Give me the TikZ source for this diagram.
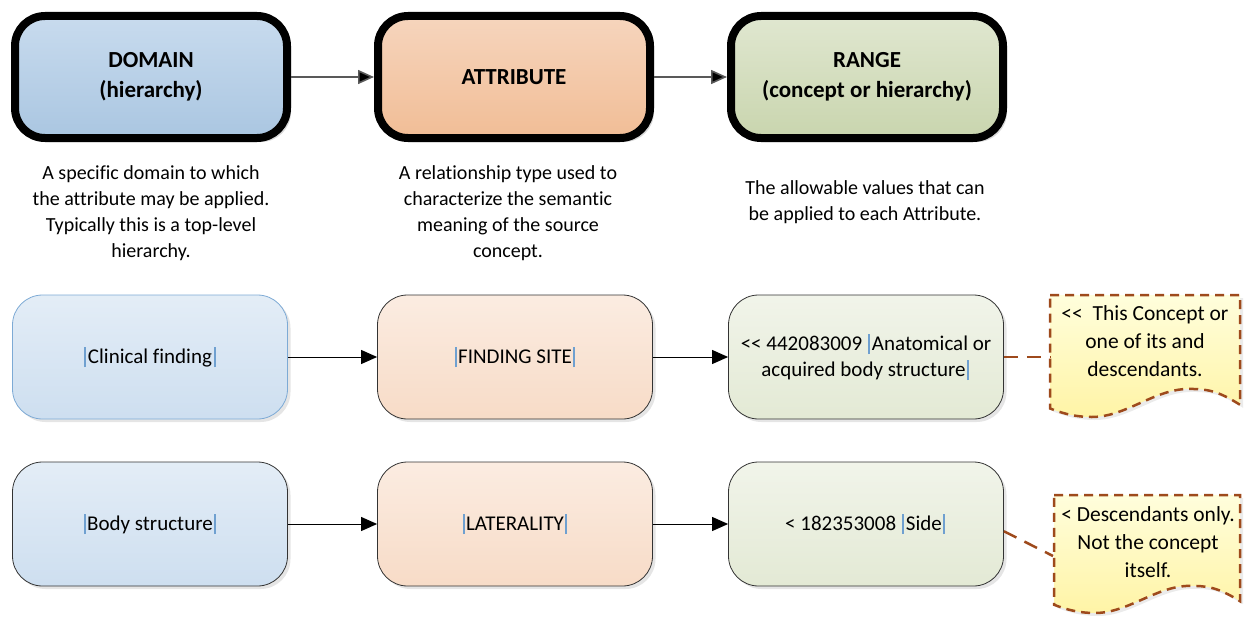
\documentclass[tikz,border=0pt]{standalone}
\usepackage{fontspec}
\setmainfont[Ligatures={TeX,NoCommon}]{Carlito}
\usetikzlibrary{shadows,arrows.meta}

\definecolor{domtop}{HTML}{C8DBEE}
\definecolor{dombot}{HTML}{AAC6E1}
\definecolor{attop}{HTML}{F6D5BD}
\definecolor{atbot}{HTML}{F1BD96}
\definecolor{rngtop}{HTML}{E0E7D0}
\definecolor{rngbot}{HTML}{C9D5AE}
\definecolor{barblue}{HTML}{6FA0D0}
\definecolor{notered}{HTML}{9E4A1C}
\definecolor{notetop}{HTML}{FFFEDC}
\definecolor{notebot}{HTML}{FFF4A6}

\newcommand{\vbar}{\kern1.5pt{\color{barblue}\rule[-4pt]{2pt}{20pt}}\kern1.5pt}

% callout with wavy bottom: x, y, width, height
\newcommand{\notebox}[4]{%
 \begin{scope}[shift={(#1,#2)}]
  \draw[notebox] (0,0) -- (#3,0) -- (#3,{-0.9*#4})
   .. controls ({0.88*#3},{-0.78*#4}) and ({0.82*#3},{-0.77*#4}) .. ({0.73*#3},{-0.77*#4})
   .. controls ({0.55*#3},{-0.77*#4}) and ({0.4*#3},{-#4}) .. ({0.22*#3},{-#4})
   .. controls ({0.12*#3},{-#4}) and ({0.05*#3},{-0.96*#4}) .. (0,{-0.93*#4}) -- cycle;
 \end{scope}}

\tikzset{
 head/.style={draw=black, rounded corners=30pt, line width=8pt, minimum width=272pt,
  minimum height=122pt, align=center, font=\fontsize{23}{30}\selectfont\bfseries,
  drop shadow={shadow xshift=4pt,shadow yshift=-4pt,fill=black!30,opacity=.5}},
 row/.style={rounded corners=30pt, line width=0.8pt, draw=black!80,
  minimum width=275pt, minimum height=124pt, align=center,
  font=\fontsize{21}{26}\selectfont,
  drop shadow={shadow xshift=3pt,shadow yshift=-3pt,fill=black!25,opacity=.4}},
 desc/.style={align=center, font=\fontsize{20}{26}\selectfont},
 notetext/.style={align=center, font=\fontsize{21.5}{28}\selectfont},
 notebox/.style={draw=notered, line width=2.5pt, dash pattern=on 9pt off 6pt,
  top color=notetop, bottom color=notebot,
  drop shadow={shadow xshift=3pt,shadow yshift=-3pt,fill=black!20,opacity=.4}},
 toplink/.style={draw=black!65, line width=1.6pt, -{Triangle[length=16pt,width=14pt,fill=black]}},
 link/.style={line width=1pt, -{Triangle[length=16pt,width=14pt]}},
 notelink/.style={draw=notered, line width=2.5pt, dash pattern=on 14pt off 9pt}
}

\begin{document}
\begin{tikzpicture}[x=1pt,y=1pt]
\useasboundingbox (0,0) rectangle (1244,-618);

% header row
\node[head, top color=domtop, bottom color=dombot] (dom) at (151,-77) {DOMAIN\\(hierarchy)};
\node[head, top color=attop, bottom color=atbot] (att) at (514,-77) {ATTRIBUTE};
\node[head, top color=rngtop, bottom color=rngbot] (rng) at (867,-77) {RANGE\\(concept or hierarchy)};
\draw[toplink] (dom) -- (att);
\draw[toplink] (att) -- (rng);

% descriptions
\node[desc] (domtxt) at (151,-213) {A specific domain to which\\the attribute may be applied.\\Typically this is a top-level\\hierarchy.};
\node[desc] (atttxt) at (508,-213) {A relationship type used to\\characterize the semantic\\meaning of the source\\concept.};
\node[desc] (rngtxt) at (865,-202) {The allowable values that can\\be applied to each Attribute.};

% finding site row
\node[row, draw=barblue!90, top color=domtop!50, bottom color=domtop!90] (cf) at (150,-357) {\vbar Clinical finding\vbar};
\node[row, top color=attop!45, bottom color=attop!85] (fs) at (515,-357) {\vbar FINDING SITE\vbar};
\node[row, top color=rngtop!45, bottom color=rngtop!90] (abs) at (866,-357) {<{}< 442083009 \vbar Anatomical or\\acquired body structure\vbar};
\draw[link] (cf) -- (fs);
\draw[link] (fs) -- (abs);

% laterality row
\node[row, top color=domtop!50, bottom color=domtop!90] (bs) at (150,-524) {\vbar Body structure\vbar};
\node[row, top color=attop!45, bottom color=attop!85] (lat) at (515,-524) {\vbar LATERALITY\vbar};
\node[row, top color=rngtop!45, bottom color=rngtop!90] (side) at (866,-524) {< 182353008 \vbar Side\vbar};
\draw[link] (bs) -- (lat);
\draw[link] (lat) -- (side);

% callouts
\notebox{1050}{-295}{190}{122}
\notebox{1054}{-495}{186}{118}
\node[notetext] (note1) at (1145,-341) {<{}<\ \ This Concept or\\one of its and\\descendants.};
\node[notetext] (note2) at (1148,-542) {< Descendants only.\\Not the concept\\itself.};
\coordinate (c1) at (1050,-357);
\coordinate (c2) at (1053,-556);
\draw[notelink] (abs.east) -- (c1);
\draw[notelink] (side.-3) -- (c2);

\end{tikzpicture}
\end{document}
